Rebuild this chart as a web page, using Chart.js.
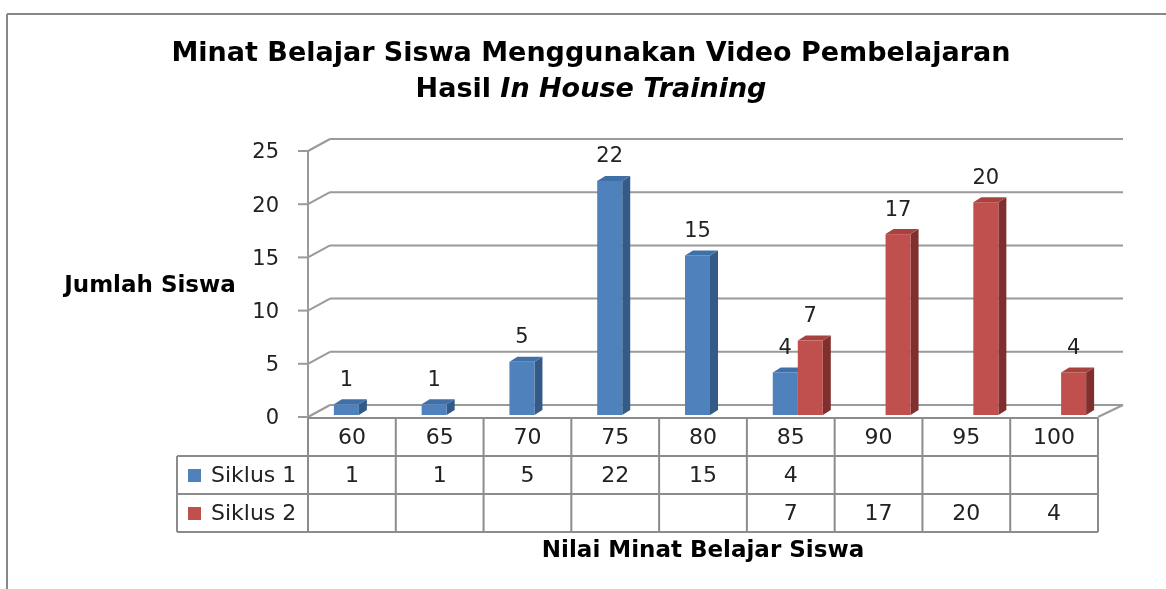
<!DOCTYPE html>
<html>
<head>
<meta charset="utf-8">
<script src="https://cdn.jsdelivr.net/npm/chart.js@4.4.0/dist/chart.umd.min.js"></script>
<style>
  html, body { margin: 0; padding: 0; background: #fff; }
</style>
</head>
<body>
<canvas id="c" width="1166" height="589"></canvas>
<script>
// data
const categories = ['60', '65', '70', '75', '80', '85', '90', '95', '100'];
const siklus1 = [1, 1, 5, 22, 15, 4, null, null, null];
const siklus2 = [null, null, null, null, null, 7, 17, 20, 4];
const seriesNames = ['Siklus 1', 'Siklus 2'];
const yTicks = [0, 5, 10, 15, 20, 25];

const FONT = "'DejaVu Sans', sans-serif";
const GRID = '#9a9a9a';
const faces = [
    { front: '#4f81bd', top: '#4070a8', side: '#345a88' },
    { front: '#c0504d', top: '#a8423f', side: '#7f2f2d' }
];

// wall depth and bar depth (px)
const DX = 22, DY = -12;
const BX = 8, BY = -5, SHIFT = 7;

function line(ctx, x1, y1, x2, y2) {
    ctx.beginPath();
    ctx.moveTo(x1, y1);
    ctx.lineTo(x2, y2);
    ctx.stroke();
}

function poly(ctx, pts, fill) {
    ctx.beginPath();
    ctx.moveTo(pts[0][0], pts[0][1]);
    for (let i = 1; i < pts.length; i++) ctx.lineTo(pts[i][0], pts[i][1]);
    ctx.closePath();
    ctx.fillStyle = fill;
    ctx.fill();
}

const excel3d = {
    id: 'excel3d',
    beforeDatasetsDraw() {
        return false; // bars are drawn below as 3d columns
    },
    afterDraw(chart) {
        const ctx = chart.ctx;
        const ys = chart.scales.y, xs = chart.scales.x;
        const area = chart.chartArea;
        const left = area.left, right = area.right;
        const y0 = ys.getPixelForValue(0);
        const catW = xs.getPixelForValue(1) - xs.getPixelForValue(0);

        ctx.save();

        // frame
        ctx.strokeStyle = '#888';
        ctx.lineWidth = 2;
        line(ctx, 7, 14, 1166, 14);
        line(ctx, 7, 14, 7, 589);

        // title
        ctx.fillStyle = '#000';
        ctx.textBaseline = 'alphabetic';
        ctx.textAlign = 'center';
        ctx.font = 'bold 27px ' + FONT;
        ctx.fillText('Minat Belajar Siswa Menggunakan Video Pembelajaran', 591, 61);
        ctx.textAlign = 'left';
        const p1 = 'Hasil ', p2 = 'In House Training';
        const w1 = ctx.measureText(p1).width;
        ctx.font = 'italic bold 27px ' + FONT;
        const w2 = ctx.measureText(p2).width;
        const sx = 591 - (w1 + w2) / 2;
        ctx.font = 'bold 27px ' + FONT;
        ctx.fillText(p1, sx, 97);
        ctx.font = 'italic bold 27px ' + FONT;
        ctx.fillText(p2, sx + w1, 97);

        // walls and gridlines
        ctx.strokeStyle = GRID;
        ctx.lineWidth = 2;
        yTicks.forEach(v => {
            const y = ys.getPixelForValue(v);
            line(ctx, left, y, left + DX, y + DY);
            line(ctx, left + DX, y + DY, right + DX + 3, y + DY);
            line(ctx, left - 10, y, left, y);
        });
        line(ctx, left, ys.getPixelForValue(25), left, y0);
        line(ctx, right, y0, right + DX + 3, y0 + DY);

        // y tick labels
        ctx.fillStyle = '#222';
        ctx.font = '21px ' + FONT;
        ctx.textAlign = 'right';
        ctx.textBaseline = 'middle';
        yTicks.forEach(v => {
            ctx.fillText(String(v), left - 29, ys.getPixelForValue(v) + 2);
        });

        // data table
        const rowTop = y0 + 1, rowH = 38, tblLeft = 177;
        ctx.strokeStyle = '#8c8c8c';
        line(ctx, left, rowTop, right, rowTop);
        for (let r = 1; r <= 3; r++) {
            line(ctx, tblLeft, rowTop + r * rowH, right, rowTop + r * rowH);
        }
        line(ctx, tblLeft, rowTop + rowH, tblLeft, rowTop + 3 * rowH);
        for (let i = 0; i <= categories.length; i++) {
            const x = left + i * catW;
            line(ctx, x, rowTop, x, rowTop + 3 * rowH);
        }
        ctx.fillStyle = '#222';
        ctx.font = '22px ' + FONT;
        ctx.textAlign = 'center';
        categories.forEach((c, i) => {
            const cx = xs.getPixelForValue(i);
            ctx.fillText(c, cx, rowTop + rowH / 2 + 1);
            [siklus1, siklus2].forEach((arr, s) => {
                if (arr[i] !== null) ctx.fillText(String(arr[i]), cx, rowTop + (s + 1.5) * rowH + 1);
            });
        });
        ctx.textAlign = 'left';
        seriesNames.forEach((n, s) => {
            const cy = rowTop + (s + 1.5) * rowH;
            ctx.fillStyle = faces[s].front;
            ctx.fillRect(188, cy - 6, 13, 13);
            ctx.fillStyle = '#222';
            ctx.fillText(n, 211, cy + 1);
        });

        // 3d columns, category by category
        for (let i = 0; i < categories.length; i++) {
            chart.data.datasets.forEach((ds, s) => {
                const el = chart.getDatasetMeta(s).data[i];
                if (!el || ds.data[i] === null) return;
                const p = el.getProps(['x', 'y', 'base', 'width'], true);
                const l = p.x - p.width / 2 + SHIFT, r = p.x + p.width / 2 + SHIFT;
                const t = p.y - 2, b = p.base - 2;
                const f = faces[s];
                poly(ctx, [[r, t], [r + BX, t + BY], [r + BX, b + BY], [r, b]], f.side);
                poly(ctx, [[l, t], [l + BX, t + BY], [r + BX, t + BY], [r, t]], f.top);
                ctx.fillStyle = f.front;
                ctx.fillRect(l, t, r - l, b - t);

                ctx.fillStyle = '#222';
                ctx.font = '21px ' + FONT;
                ctx.textAlign = 'center';
                ctx.textBaseline = 'middle';
                ctx.fillText(String(ds.data[i]), (l + r) / 2, t - 24);
            });
        }

        // axis titles
        ctx.fillStyle = '#000';
        ctx.font = 'bold 23px ' + FONT;
        ctx.textAlign = 'center';
        ctx.textBaseline = 'middle';
        ctx.fillText('Jumlah Siswa', 150, 286);
        ctx.fillText('Nilai Minat Belajar Siswa', 703, 551);

        ctx.restore();
    }
};

new Chart(document.getElementById('c'), {
    type: 'bar',
    data: {
        labels: categories,
        datasets: [
            { label: seriesNames[0], data: siklus1, backgroundColor: faces[0].front },
            { label: seriesNames[1], data: siklus2, backgroundColor: faces[1].front }
        ]
    },
    options: {
        responsive: false,
        animation: false,
        categoryPercentage: 0.57,
        barPercentage: 1,
        layout: { padding: { left: 308, right: 68, top: 151, bottom: 172 } },
        plugins: { legend: { display: false }, tooltip: { enabled: false } },
        scales: {
            x: { display: false },
            y: { display: false, min: 0, max: 25, ticks: { stepSize: 5 } }
        }
    },
    plugins: [excel3d]
});
</script>
</body>
</html>
